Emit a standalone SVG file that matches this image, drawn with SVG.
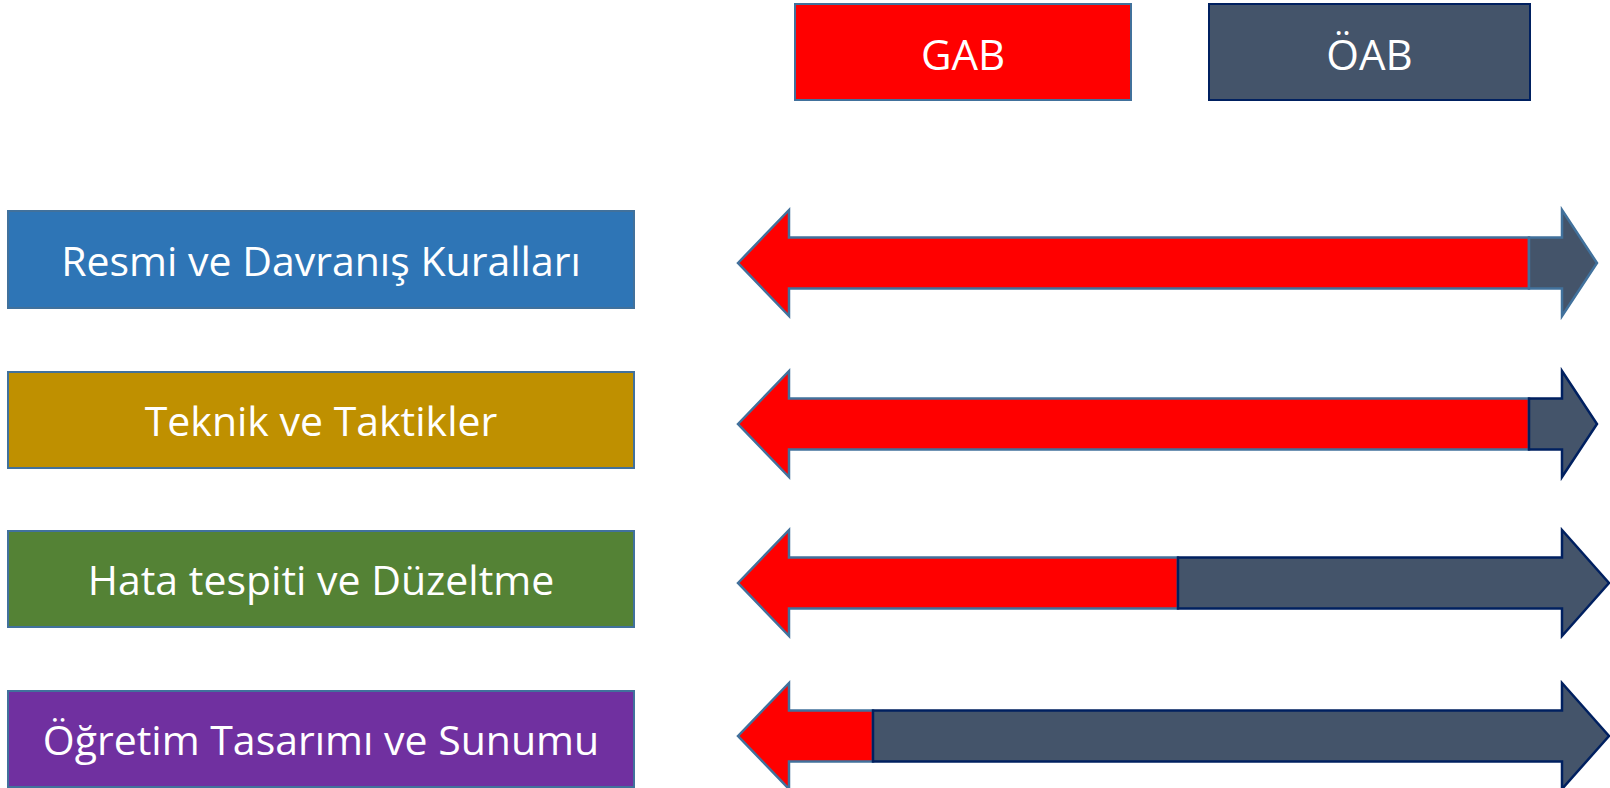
<svg xmlns="http://www.w3.org/2000/svg" width="1610" height="788" viewBox="0 0 1610 788">
<style>
  .lbl { font-family: "Open Sans", "Noto Sans", "Liberation Sans", sans-serif; font-size: 41px; fill: #ffffff; text-anchor: middle; dominant-baseline: central; }
  .box { stroke: #41719C; stroke-width: 2; }
  .red { fill: #FF0000; stroke: #41719C; stroke-width: 2.5; stroke-linejoin: miter; }
  .dark { fill: #44546A; stroke: #002060; stroke-width: 2.5; stroke-linejoin: miter; }
  .dark1 { fill: #44546A; stroke: #41719C; stroke-width: 2.5; stroke-linejoin: miter; }
</style>
<rect width="1610" height="788" fill="#ffffff"/>

<g id="legend-gab">
  <rect class="box" x="795" y="4" width="336" height="96" fill="#FF0000"/>
  <text class="lbl" x="963" y="53" style="font-size:42px">GAB</text>
</g>
<g id="legend-oab">
  <rect x="1209" y="4" width="321" height="96" fill="#44546A" stroke="#002060" stroke-width="2"/>
  <text class="lbl" x="1369.5" y="53" style="font-size:42px">ÖAB</text>
</g>

<g id="node-resmi">
  <rect class="box" x="8" y="211" width="626" height="97" fill="#2E75B6"/>
  <text class="lbl" x="321" y="260">Resmi ve Davranış Kuralları</text>
</g>
<g id="node-teknik">
  <rect class="box" x="8" y="372" width="626" height="96" fill="#BF9000"/>
  <text class="lbl" x="321" y="420">Teknik ve Taktikler</text>
</g>
<g id="node-hata">
  <rect class="box" x="8" y="531" width="626" height="96" fill="#548235"/>
  <text class="lbl" x="321" y="579">Hata tespiti ve Düzeltme</text>
</g>
<g id="node-ogretim">
  <rect class="box" x="8" y="691" width="626" height="96" fill="#7030A0"/>
  <text class="lbl" x="321" y="739">Öğretim Tasarımı ve Sunumu</text>
</g>

<g id="connectors">
  <g id="arrow-1" transform="translate(0,263)">
    <polygon class="red" points="738,0 789,-53 789,-25.5 1529,-25.5 1529,25.5 789,25.5 789,53"/>
    <polygon class="dark1" points="1529,-25.5 1562,-25.5 1562,-53 1597,0 1562,53 1562,25.5 1529,25.5"/>
  </g>
  <g id="arrow-2" transform="translate(0,424)">
    <polygon class="red" points="738,0 789,-53 789,-25.5 1529,-25.5 1529,25.5 789,25.5 789,53"/>
    <polygon class="dark" points="1529,-25.5 1562,-25.5 1562,-53 1597,0 1562,53 1562,25.5 1529,25.5"/>
  </g>
  <g id="arrow-3" transform="translate(0,583)">
    <polygon class="red" points="738,0 789,-53 789,-25.5 1178,-25.5 1178,25.5 789,25.5 789,53"/>
    <polygon class="dark" points="1178,-25.5 1562,-25.5 1562,-53 1609,0 1562,53 1562,25.5 1178,25.5"/>
  </g>
  <g id="arrow-4" transform="translate(0,736)">
    <polygon class="red" points="738,0 789,-53 789,-25.5 873,-25.5 873,25.5 789,25.5 789,53"/>
    <polygon class="dark" points="873,-25.5 1562,-25.5 1562,-53 1609,0 1562,53 1562,25.5 873,25.5"/>
  </g>
</g>
</svg>
